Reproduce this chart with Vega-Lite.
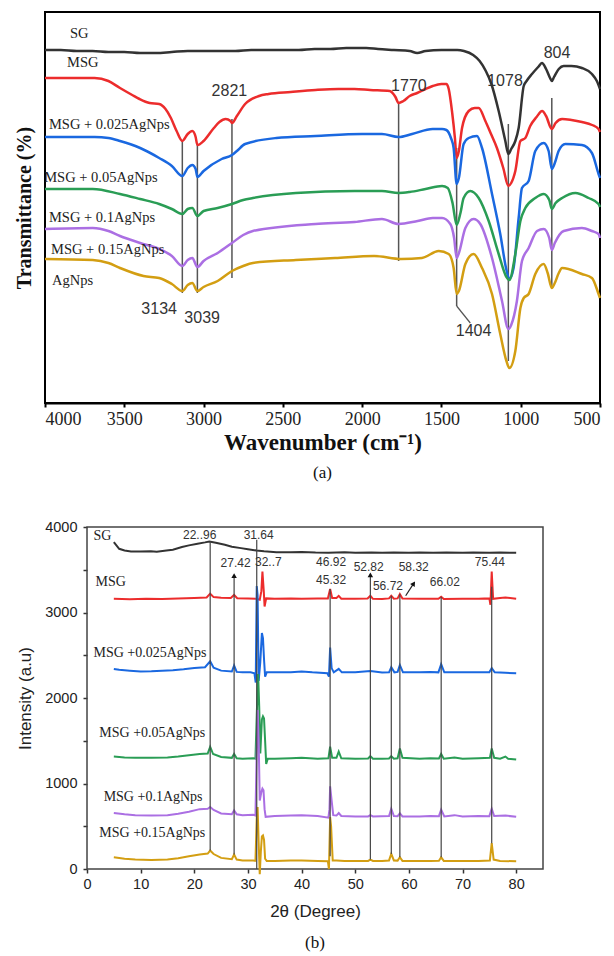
{
"$schema": "https://vega.github.io/schema/vega-lite/v6.json",
"padding": {"left": 13, "top": 11, "right": 5, "bottom": 5},
"background": "white",
"datasets": {
"ftir": [
{"s":"SG","w":4000,"t":353},{"s":"SG","w":3900,"t":353},{"s":"SG","w":3800,"t":352},{"s":"SG","w":3700,"t":352},{"s":"SG","w":3600,"t":351},{"s":"SG","w":3500,"t":351},{"s":"SG","w":3400,"t":350},{"s":"SG","w":3300,"t":350},{"s":"SG","w":3200,"t":351},{"s":"SG","w":3100,"t":352},{"s":"SG","w":3000,"t":352},{"s":"SG","w":2900,"t":352},{"s":"SG","w":2800,"t":352},{"s":"SG","w":2700,"t":353},{"s":"SG","w":2600,"t":353},{"s":"SG","w":2500,"t":353},{"s":"SG","w":2400,"t":353},{"s":"SG","w":2300,"t":354},{"s":"SG","w":2200,"t":354},{"s":"SG","w":2100,"t":355},{"s":"SG","w":1974,"t":355},{"s":"SG","w":1900,"t":354},{"s":"SG","w":1800,"t":353},{"s":"SG","w":1700,"t":352},{"s":"SG","w":1653,"t":350},{"s":"SG","w":1600,"t":352},{"s":"SG","w":1500,"t":353},{"s":"SG","w":1400,"t":353},{"s":"SG","w":1358,"t":352},{"s":"SG","w":1300,"t":348},{"s":"SG","w":1259,"t":342},{"s":"SG","w":1220,"t":332},{"s":"SG","w":1185,"t":319},{"s":"SG","w":1139,"t":292},{"s":"SG","w":1097,"t":262},{"s":"SG","w":1078,"t":249},{"s":"SG","w":1060,"t":254},{"s":"SG","w":1034,"t":262},{"s":"SG","w":1013,"t":275},{"s":"SG","w":981,"t":317},{"s":"SG","w":963,"t":322},{"s":"SG","w":929,"t":329},{"s":"SG","w":890,"t":336},{"s":"SG","w":866,"t":340},{"s":"SG","w":840,"t":334},{"s":"SG","w":815,"t":325},{"s":"SG","w":804,"t":322},{"s":"SG","w":790,"t":326},{"s":"SG","w":760,"t":334},{"s":"SG","w":729,"t":337},{"s":"SG","w":680,"t":337},{"s":"SG","w":614,"t":335},{"s":"SG","w":551,"t":329},{"s":"SG","w":520,"t":322},{"s":"SG","w":500,"t":314},
{"s":"MSG","w":4000,"t":325},{"s":"MSG","w":3800,"t":325},{"s":"MSG","w":3687,"t":325},{"s":"MSG","w":3600,"t":322},{"s":"MSG","w":3527,"t":315},{"s":"MSG","w":3450,"t":308},{"s":"MSG","w":3404,"t":304},{"s":"MSG","w":3340,"t":300},{"s":"MSG","w":3280,"t":299},{"s":"MSG","w":3240,"t":294},{"s":"MSG","w":3206,"t":285},{"s":"MSG","w":3170,"t":272},{"s":"MSG","w":3134,"t":262},{"s":"MSG","w":3100,"t":269},{"s":"MSG","w":3071,"t":272},{"s":"MSG","w":3050,"t":266},{"s":"MSG","w":3039,"t":258},{"s":"MSG","w":3000,"t":262},{"s":"MSG","w":2935,"t":275},{"s":"MSG","w":2900,"t":281},{"s":"MSG","w":2861,"t":284},{"s":"MSG","w":2830,"t":282},{"s":"MSG","w":2821,"t":280},{"s":"MSG","w":2790,"t":287},{"s":"MSG","w":2738,"t":299},{"s":"MSG","w":2650,"t":307},{"s":"MSG","w":2590,"t":309},{"s":"MSG","w":2450,"t":311},{"s":"MSG","w":2294,"t":313},{"s":"MSG","w":2150,"t":314},{"s":"MSG","w":2048,"t":314},{"s":"MSG","w":1950,"t":313},{"s":"MSG","w":1826,"t":312},{"s":"MSG","w":1790,"t":306},{"s":"MSG","w":1770,"t":300},{"s":"MSG","w":1740,"t":302},{"s":"MSG","w":1700,"t":307},{"s":"MSG","w":1653,"t":310},{"s":"MSG","w":1600,"t":314},{"s":"MSG","w":1555,"t":317},{"s":"MSG","w":1500,"t":319},{"s":"MSG","w":1469,"t":319},{"s":"MSG","w":1454,"t":314},{"s":"MSG","w":1432,"t":290},{"s":"MSG","w":1415,"t":265},{"s":"MSG","w":1404,"t":245},{"s":"MSG","w":1390,"t":252},{"s":"MSG","w":1370,"t":275},{"s":"MSG","w":1328,"t":292},{"s":"MSG","w":1290,"t":295},{"s":"MSG","w":1265,"t":295},{"s":"MSG","w":1223,"t":282},{"s":"MSG","w":1190,"t":270},{"s":"MSG","w":1150,"t":255},{"s":"MSG","w":1110,"t":235},{"s":"MSG","w":1078,"t":217},{"s":"MSG","w":1060,"t":220},{"s":"MSG","w":1034,"t":232},{"s":"MSG","w":1002,"t":262},{"s":"MSG","w":971,"t":265},{"s":"MSG","w":940,"t":277},{"s":"MSG","w":900,"t":286},{"s":"MSG","w":865,"t":292},{"s":"MSG","w":840,"t":287},{"s":"MSG","w":804,"t":274},{"s":"MSG","w":780,"t":280},{"s":"MSG","w":739,"t":284},{"s":"MSG","w":680,"t":283},{"s":"MSG","w":614,"t":281},{"s":"MSG","w":550,"t":278},{"s":"MSG","w":509,"t":274},{"s":"MSG","w":500,"t":271},
{"s":"0.025","w":4000,"t":266},{"s":"0.025","w":3687,"t":266},{"s":"0.025","w":3600,"t":265},{"s":"0.025","w":3527,"t":262},{"s":"0.025","w":3400,"t":255},{"s":"0.025","w":3280,"t":245},{"s":"0.025","w":3200,"t":237},{"s":"0.025","w":3134,"t":227},{"s":"0.025","w":3100,"t":235},{"s":"0.025","w":3071,"t":238},{"s":"0.025","w":3050,"t":234},{"s":"0.025","w":3039,"t":226},{"s":"0.025","w":3000,"t":232},{"s":"0.025","w":2886,"t":244},{"s":"0.025","w":2821,"t":248},{"s":"0.025","w":2790,"t":252},{"s":"0.025","w":2738,"t":259},{"s":"0.025","w":2541,"t":265},{"s":"0.025","w":2294,"t":267},{"s":"0.025","w":2000,"t":269},{"s":"0.025","w":1875,"t":269},{"s":"0.025","w":1770,"t":266},{"s":"0.025","w":1685,"t":269},{"s":"0.025","w":1555,"t":274},{"s":"0.025","w":1496,"t":274},{"s":"0.025","w":1469,"t":273},{"s":"0.025","w":1440,"t":265},{"s":"0.025","w":1423,"t":255},{"s":"0.025","w":1404,"t":219},{"s":"0.025","w":1390,"t":225},{"s":"0.025","w":1360,"t":259},{"s":"0.025","w":1328,"t":265},{"s":"0.025","w":1276,"t":267},{"s":"0.025","w":1244,"t":255},{"s":"0.025","w":1181,"t":209},{"s":"0.025","w":1129,"t":169},{"s":"0.025","w":1090,"t":133},{"s":"0.025","w":1072,"t":124},{"s":"0.025","w":1045,"t":135},{"s":"0.025","w":1013,"t":185},{"s":"0.025","w":992,"t":215},{"s":"0.025","w":950,"t":222},{"s":"0.025","w":908,"t":252},{"s":"0.025","w":855,"t":260},{"s":"0.025","w":824,"t":252},{"s":"0.025","w":804,"t":234},{"s":"0.025","w":785,"t":240},{"s":"0.025","w":761,"t":252},{"s":"0.025","w":719,"t":259},{"s":"0.025","w":614,"t":258},{"s":"0.025","w":551,"t":250},{"s":"0.025","w":509,"t":229},{"s":"0.025","w":500,"t":225},
{"s":"0.05","w":4000,"t":214},{"s":"0.05","w":3699,"t":214},{"s":"0.05","w":3527,"t":209},{"s":"0.05","w":3400,"t":204},{"s":"0.05","w":3280,"t":199},{"s":"0.05","w":3200,"t":194},{"s":"0.05","w":3134,"t":189},{"s":"0.05","w":3100,"t":194},{"s":"0.05","w":3071,"t":195},{"s":"0.05","w":3039,"t":187},{"s":"0.05","w":3000,"t":192},{"s":"0.05","w":2911,"t":195},{"s":"0.05","w":2821,"t":199},{"s":"0.05","w":2750,"t":203},{"s":"0.05","w":2689,"t":205},{"s":"0.05","w":2418,"t":210},{"s":"0.05","w":2048,"t":212},{"s":"0.05","w":1875,"t":212},{"s":"0.05","w":1770,"t":210},{"s":"0.05","w":1700,"t":211},{"s":"0.05","w":1600,"t":214},{"s":"0.05","w":1496,"t":217},{"s":"0.05","w":1460,"t":215},{"s":"0.05","w":1430,"t":200},{"s":"0.05","w":1404,"t":178},{"s":"0.05","w":1380,"t":190},{"s":"0.05","w":1360,"t":205},{"s":"0.05","w":1318,"t":212},{"s":"0.05","w":1265,"t":205},{"s":"0.05","w":1202,"t":182},{"s":"0.05","w":1139,"t":149},{"s":"0.05","w":1090,"t":126},{"s":"0.05","w":1072,"t":123},{"s":"0.05","w":1034,"t":149},{"s":"0.05","w":1002,"t":182},{"s":"0.05","w":971,"t":195},{"s":"0.05","w":908,"t":205},{"s":"0.05","w":855,"t":209},{"s":"0.05","w":820,"t":203},{"s":"0.05","w":804,"t":194},{"s":"0.05","w":780,"t":200},{"s":"0.05","w":739,"t":205},{"s":"0.05","w":655,"t":210},{"s":"0.05","w":572,"t":205},{"s":"0.05","w":509,"t":199},{"s":"0.05","w":500,"t":196},
{"s":"0.1","w":4000,"t":174},{"s":"0.1","w":3699,"t":175},{"s":"0.1","w":3600,"t":172},{"s":"0.1","w":3527,"t":167},{"s":"0.1","w":3400,"t":160},{"s":"0.1","w":3280,"t":154},{"s":"0.1","w":3200,"t":147},{"s":"0.1","w":3134,"t":137},{"s":"0.1","w":3100,"t":143},{"s":"0.1","w":3071,"t":145},{"s":"0.1","w":3039,"t":136},{"s":"0.1","w":3000,"t":142},{"s":"0.1","w":2911,"t":150},{"s":"0.1","w":2821,"t":160},{"s":"0.1","w":2750,"t":168},{"s":"0.1","w":2689,"t":172},{"s":"0.1","w":2294,"t":179},{"s":"0.1","w":2048,"t":181},{"s":"0.1","w":1875,"t":184},{"s":"0.1","w":1770,"t":179},{"s":"0.1","w":1650,"t":182},{"s":"0.1","w":1555,"t":185},{"s":"0.1","w":1496,"t":185},{"s":"0.1","w":1444,"t":179},{"s":"0.1","w":1420,"t":165},{"s":"0.1","w":1404,"t":145},{"s":"0.1","w":1390,"t":150},{"s":"0.1","w":1349,"t":175},{"s":"0.1","w":1297,"t":184},{"s":"0.1","w":1255,"t":179},{"s":"0.1","w":1181,"t":145},{"s":"0.1","w":1118,"t":102},{"s":"0.1","w":1078,"t":74},{"s":"0.1","w":1060,"t":78},{"s":"0.1","w":1024,"t":102},{"s":"0.1","w":992,"t":142},{"s":"0.1","w":950,"t":155},{"s":"0.1","w":897,"t":172},{"s":"0.1","w":855,"t":174},{"s":"0.1","w":820,"t":165},{"s":"0.1","w":804,"t":153},{"s":"0.1","w":785,"t":160},{"s":"0.1","w":729,"t":172},{"s":"0.1","w":614,"t":175},{"s":"0.1","w":551,"t":172},{"s":"0.1","w":509,"t":169},{"s":"0.1","w":500,"t":165},
{"s":"0.15","w":4000,"t":144},{"s":"0.15","w":3699,"t":143},{"s":"0.15","w":3600,"t":140},{"s":"0.15","w":3527,"t":135},{"s":"0.15","w":3379,"t":127},{"s":"0.15","w":3280,"t":125},{"s":"0.15","w":3200,"t":119},{"s":"0.15","w":3134,"t":112},{"s":"0.15","w":3100,"t":118},{"s":"0.15","w":3071,"t":120},{"s":"0.15","w":3039,"t":112},{"s":"0.15","w":3000,"t":116},{"s":"0.15","w":2911,"t":122},{"s":"0.15","w":2821,"t":132},{"s":"0.15","w":2750,"t":137},{"s":"0.15","w":2689,"t":140},{"s":"0.15","w":2418,"t":143},{"s":"0.15","w":2171,"t":145},{"s":"0.15","w":1925,"t":147},{"s":"0.15","w":1753,"t":144},{"s":"0.15","w":1623,"t":145},{"s":"0.15","w":1517,"t":152},{"s":"0.15","w":1454,"t":149},{"s":"0.15","w":1423,"t":135},{"s":"0.15","w":1404,"t":109},{"s":"0.15","w":1390,"t":112},{"s":"0.15","w":1349,"t":139},{"s":"0.15","w":1297,"t":149},{"s":"0.15","w":1244,"t":135},{"s":"0.15","w":1181,"t":109},{"s":"0.15","w":1129,"t":69},{"s":"0.15","w":1090,"t":42},{"s":"0.15","w":1072,"t":35},{"s":"0.15","w":1034,"t":52},{"s":"0.15","w":1002,"t":95},{"s":"0.15","w":981,"t":105},{"s":"0.15","w":950,"t":109},{"s":"0.15","w":908,"t":129},{"s":"0.15","w":855,"t":139},{"s":"0.15","w":830,"t":130},{"s":"0.15","w":804,"t":115},{"s":"0.15","w":785,"t":120},{"s":"0.15","w":760,"t":130},{"s":"0.15","w":739,"t":135},{"s":"0.15","w":614,"t":129},{"s":"0.15","w":551,"t":125},{"s":"0.15","w":509,"t":109},{"s":"0.15","w":500,"t":105}
],
"ftirLines": [
{"w":3134,"t1":262,"t2":110},{"w":3039,"t1":258,"t2":110},{"w":2821,"t1":284,"t2":125},{"w":1770,"t1":300,"t2":142},{"w":1404,"t1":255,"t2":97},{"w":1078,"t1":279,"t2":42},{"w":804,"t1":305,"t2":115}
],
"ftirConn": [{"w1":1404,"t1":97,"w2":1318,"t2":80}],
"ftirNums": [
{"label":"3134","w":3280,"t":94},{"label":"3039","w":3009,"t":85},{"label":"2821","w":2837,"t":312},{"label":"1770","w":1705,"t":317},{"label":"1404","w":1297,"t":72},{"label":"1078","w":1099,"t":322},{"label":"804","w":771,"t":350}
],
"ftirNames": [
{"label":"SG","w":3842,"t":369},{"label":"MSG","w":3861,"t":340},{"label":"MSG + 0.025AgNps","w":3975,"t":278},{"label":"MSG + 0.05AgNps","w":4005,"t":225},{"label":"MSG + 0.1AgNps","w":3975,"t":185},{"label":"MSG + 0.15AgNps","w":3962,"t":153},{"label":"AgNps","w":3956,"t":122}
],
"xrdFrame": [{"a1":0,"a2":85,"i1":0,"i2":4000}],
"xrd": [
{"s":"SG","a":5,"i":3824},{"s":"SG","a":6,"i":3745},{"s":"SG","a":7,"i":3725},{"s":"SG","a":8.2,"i":3714},{"s":"SG","a":10,"i":3712},{"s":"SG","a":11.9,"i":3716},{"s":"SG","a":13,"i":3712},{"s":"SG","a":14.8,"i":3725},{"s":"SG","a":16,"i":3735},{"s":"SG","a":17.7,"i":3765},{"s":"SG","a":19,"i":3785},{"s":"SG","a":20.6,"i":3804},{"s":"SG","a":22,"i":3820},{"s":"SG","a":22.8,"i":3831},{"s":"SG","a":24,"i":3815},{"s":"SG","a":25.7,"i":3792},{"s":"SG","a":27,"i":3770},{"s":"SG","a":28.7,"i":3753},{"s":"SG","a":30,"i":3740},{"s":"SG","a":31.6,"i":3725},{"s":"SG","a":33,"i":3715},{"s":"SG","a":35.3,"i":3706},{"s":"SG","a":38,"i":3704},{"s":"SG","a":40,"i":3708},{"s":"SG","a":42.6,"i":3702},{"s":"SG","a":45,"i":3700},{"s":"SG","a":48,"i":3704},{"s":"SG","a":50,"i":3700},{"s":"SG","a":53,"i":3703},{"s":"SG","a":55,"i":3700},{"s":"SG","a":57.2,"i":3702},{"s":"SG","a":60,"i":3700},{"s":"SG","a":62,"i":3703},{"s":"SG","a":64.5,"i":3700},{"s":"SG","a":67,"i":3702},{"s":"SG","a":70,"i":3700},{"s":"SG","a":72,"i":3702},{"s":"SG","a":75,"i":3700},{"s":"SG","a":77,"i":3702},{"s":"SG","a":80,"i":3698},
{"s":"MSG","a":5,"i":3160},{"s":"MSG","a":8,"i":3155},{"s":"MSG","a":11,"i":3162},{"s":"MSG","a":14,"i":3158},{"s":"MSG","a":17,"i":3165},{"s":"MSG","a":20,"i":3170},{"s":"MSG","a":22.3,"i":3175},{"s":"MSG","a":22.96,"i":3220},{"s":"MSG","a":23.6,"i":3180},{"s":"MSG","a":25,"i":3172},{"s":"MSG","a":26.8,"i":3170},{"s":"MSG","a":27.42,"i":3205},{"s":"MSG","a":28,"i":3168},{"s":"MSG","a":30,"i":3165},{"s":"MSG","a":31.5,"i":3160},{"s":"MSG","a":32.2,"i":3150},{"s":"MSG","a":32.5,"i":3250},{"s":"MSG","a":32.7,"i":3480},{"s":"MSG","a":32.95,"i":3250},{"s":"MSG","a":33.1,"i":3070},{"s":"MSG","a":33.4,"i":3165},{"s":"MSG","a":35,"i":3160},{"s":"MSG","a":38,"i":3165},{"s":"MSG","a":40,"i":3160},{"s":"MSG","a":43,"i":3163},{"s":"MSG","a":44.9,"i":3165},{"s":"MSG","a":45.32,"i":3275},{"s":"MSG","a":45.7,"i":3170},{"s":"MSG","a":46.5,"i":3170},{"s":"MSG","a":46.92,"i":3195},{"s":"MSG","a":47.4,"i":3162},{"s":"MSG","a":50,"i":3160},{"s":"MSG","a":52.3,"i":3163},{"s":"MSG","a":52.82,"i":3195},{"s":"MSG","a":53.3,"i":3160},{"s":"MSG","a":55,"i":3158},{"s":"MSG","a":56.3,"i":3165},{"s":"MSG","a":56.72,"i":3195},{"s":"MSG","a":57.2,"i":3162},{"s":"MSG","a":57.9,"i":3165},{"s":"MSG","a":58.32,"i":3215},{"s":"MSG","a":58.8,"i":3165},{"s":"MSG","a":62,"i":3160},{"s":"MSG","a":65.5,"i":3160},{"s":"MSG","a":66.02,"i":3185},{"s":"MSG","a":66.5,"i":3158},{"s":"MSG","a":70,"i":3162},{"s":"MSG","a":73,"i":3160},{"s":"MSG","a":75,"i":3165},{"s":"MSG","a":75.2,"i":3090},{"s":"MSG","a":75.44,"i":3480},{"s":"MSG","a":75.7,"i":3160},{"s":"MSG","a":77,"i":3170},{"s":"MSG","a":78,"i":3175},{"s":"MSG","a":80,"i":3160},
{"s":"0.025","a":5,"i":2340},{"s":"0.025","a":6,"i":2330},{"s":"0.025","a":8,"i":2320},{"s":"0.025","a":10,"i":2310},{"s":"0.025","a":12,"i":2312},{"s":"0.025","a":14,"i":2318},{"s":"0.025","a":16,"i":2325},{"s":"0.025","a":18,"i":2335},{"s":"0.025","a":20,"i":2350},{"s":"0.025","a":22,"i":2360},{"s":"0.025","a":22.96,"i":2430},{"s":"0.025","a":23.6,"i":2355},{"s":"0.025","a":25,"i":2320},{"s":"0.025","a":27,"i":2310},{"s":"0.025","a":27.42,"i":2380},{"s":"0.025","a":27.9,"i":2305},{"s":"0.025","a":29,"i":2300},{"s":"0.025","a":30.5,"i":2300},{"s":"0.025","a":31.2,"i":2290},{"s":"0.025","a":31.45,"i":2180},{"s":"0.025","a":31.64,"i":3310},{"s":"0.025","a":31.8,"i":3200},{"s":"0.025","a":32,"i":2200},{"s":"0.025","a":32.3,"i":2420},{"s":"0.025","a":32.6,"i":2760},{"s":"0.025","a":32.8,"i":2700},{"s":"0.025","a":33,"i":2450},{"s":"0.025","a":33.2,"i":2250},{"s":"0.025","a":33.5,"i":2300},{"s":"0.025","a":35,"i":2300},{"s":"0.025","a":38,"i":2300},{"s":"0.025","a":40,"i":2310},{"s":"0.025","a":42,"i":2300},{"s":"0.025","a":44.8,"i":2290},{"s":"0.025","a":45.1,"i":2250},{"s":"0.025","a":45.32,"i":2590},{"s":"0.025","a":45.6,"i":2350},{"s":"0.025","a":46,"i":2300},{"s":"0.025","a":46.92,"i":2340},{"s":"0.025","a":47.5,"i":2300},{"s":"0.025","a":50,"i":2300},{"s":"0.025","a":52.82,"i":2315},{"s":"0.025","a":55,"i":2298},{"s":"0.025","a":56.3,"i":2300},{"s":"0.025","a":56.72,"i":2360},{"s":"0.025","a":57.3,"i":2300},{"s":"0.025","a":57.9,"i":2305},{"s":"0.025","a":58.32,"i":2385},{"s":"0.025","a":58.9,"i":2300},{"s":"0.025","a":62,"i":2300},{"s":"0.025","a":64,"i":2305},{"s":"0.025","a":65.5,"i":2300},{"s":"0.025","a":66.02,"i":2395},{"s":"0.025","a":66.6,"i":2300},{"s":"0.025","a":70,"i":2300},{"s":"0.025","a":72,"i":2300},{"s":"0.025","a":75,"i":2300},{"s":"0.025","a":75.44,"i":2350},{"s":"0.025","a":76,"i":2300},{"s":"0.025","a":78,"i":2295},{"s":"0.025","a":80,"i":2290},
{"s":"0.05","a":5,"i":1315},{"s":"0.05","a":7,"i":1305},{"s":"0.05","a":9,"i":1300},{"s":"0.05","a":12,"i":1300},{"s":"0.05","a":15,"i":1305},{"s":"0.05","a":17,"i":1315},{"s":"0.05","a":19,"i":1330},{"s":"0.05","a":21,"i":1345},{"s":"0.05","a":22.5,"i":1350},{"s":"0.05","a":22.96,"i":1430},{"s":"0.05","a":23.5,"i":1345},{"s":"0.05","a":25,"i":1310},{"s":"0.05","a":27,"i":1300},{"s":"0.05","a":27.42,"i":1345},{"s":"0.05","a":27.9,"i":1295},{"s":"0.05","a":29,"i":1290},{"s":"0.05","a":31,"i":1295},{"s":"0.05","a":31.4,"i":1290},{"s":"0.05","a":31.64,"i":1800},{"s":"0.05","a":31.9,"i":2280},{"s":"0.05","a":32.1,"i":1900},{"s":"0.05","a":32.3,"i":1350},{"s":"0.05","a":32.6,"i":1750},{"s":"0.05","a":32.8,"i":1785},{"s":"0.05","a":33,"i":1760},{"s":"0.05","a":33.2,"i":1500},{"s":"0.05","a":33.4,"i":1230},{"s":"0.05","a":33.7,"i":1290},{"s":"0.05","a":35,"i":1290},{"s":"0.05","a":38,"i":1295},{"s":"0.05","a":40,"i":1300},{"s":"0.05","a":43,"i":1290},{"s":"0.05","a":45,"i":1295},{"s":"0.05","a":45.32,"i":1430},{"s":"0.05","a":45.7,"i":1300},{"s":"0.05","a":46.5,"i":1300},{"s":"0.05","a":46.92,"i":1372},{"s":"0.05","a":47.4,"i":1295},{"s":"0.05","a":50,"i":1290},{"s":"0.05","a":52.4,"i":1292},{"s":"0.05","a":52.82,"i":1320},{"s":"0.05","a":53.3,"i":1290},{"s":"0.05","a":55,"i":1290},{"s":"0.05","a":56.3,"i":1292},{"s":"0.05","a":56.72,"i":1320},{"s":"0.05","a":57.2,"i":1290},{"s":"0.05","a":57.9,"i":1295},{"s":"0.05","a":58.32,"i":1410},{"s":"0.05","a":58.8,"i":1300},{"s":"0.05","a":62,"i":1290},{"s":"0.05","a":64,"i":1295},{"s":"0.05","a":65.6,"i":1292},{"s":"0.05","a":66.02,"i":1345},{"s":"0.05","a":66.5,"i":1290},{"s":"0.05","a":68.5,"i":1305},{"s":"0.05","a":70,"i":1290},{"s":"0.05","a":73,"i":1295},{"s":"0.05","a":75.1,"i":1300},{"s":"0.05","a":75.44,"i":1410},{"s":"0.05","a":75.9,"i":1300},{"s":"0.05","a":77,"i":1290},{"s":"0.05","a":78,"i":1315},{"s":"0.05","a":78.5,"i":1290},{"s":"0.05","a":80,"i":1280},
{"s":"0.1","a":5,"i":655},{"s":"0.1","a":7,"i":640},{"s":"0.1","a":9,"i":630},{"s":"0.1","a":12,"i":625},{"s":"0.1","a":15,"i":630},{"s":"0.1","a":17,"i":645},{"s":"0.1","a":19,"i":670},{"s":"0.1","a":21,"i":700},{"s":"0.1","a":22.5,"i":705},{"s":"0.1","a":22.96,"i":725},{"s":"0.1","a":23.6,"i":690},{"s":"0.1","a":25,"i":650},{"s":"0.1","a":27,"i":640},{"s":"0.1","a":27.42,"i":686},{"s":"0.1","a":27.9,"i":640},{"s":"0.1","a":29,"i":630},{"s":"0.1","a":31,"i":635},{"s":"0.1","a":31.4,"i":625},{"s":"0.1","a":31.64,"i":1400},{"s":"0.1","a":31.8,"i":1860},{"s":"0.1","a":32,"i":1500},{"s":"0.1","a":32.2,"i":800},{"s":"0.1","a":32.5,"i":900},{"s":"0.1","a":32.7,"i":940},{"s":"0.1","a":32.9,"i":920},{"s":"0.1","a":33.1,"i":700},{"s":"0.1","a":33.3,"i":610},{"s":"0.1","a":35,"i":620},{"s":"0.1","a":38,"i":625},{"s":"0.1","a":40,"i":630},{"s":"0.1","a":43,"i":620},{"s":"0.1","a":45,"i":600},{"s":"0.1","a":45.2,"i":700},{"s":"0.1","a":45.32,"i":968},{"s":"0.1","a":45.6,"i":800},{"s":"0.1","a":45.9,"i":630},{"s":"0.1","a":46.5,"i":625},{"s":"0.1","a":46.92,"i":655},{"s":"0.1","a":47.4,"i":620},{"s":"0.1","a":50,"i":615},{"s":"0.1","a":52.4,"i":615},{"s":"0.1","a":52.82,"i":630},{"s":"0.1","a":53.3,"i":615},{"s":"0.1","a":56.3,"i":620},{"s":"0.1","a":56.72,"i":705},{"s":"0.1","a":57.2,"i":620},{"s":"0.1","a":57.9,"i":618},{"s":"0.1","a":58.32,"i":650},{"s":"0.1","a":58.8,"i":615},{"s":"0.1","a":62,"i":615},{"s":"0.1","a":64,"i":620},{"s":"0.1","a":65.6,"i":618},{"s":"0.1","a":66.02,"i":694},{"s":"0.1","a":66.6,"i":615},{"s":"0.1","a":68.5,"i":630},{"s":"0.1","a":70,"i":615},{"s":"0.1","a":73,"i":620},{"s":"0.1","a":75,"i":618},{"s":"0.1","a":75.44,"i":705},{"s":"0.1","a":75.9,"i":620},{"s":"0.1","a":78,"i":625},{"s":"0.1","a":80,"i":610},
{"s":"0.15","a":5,"i":137},{"s":"0.15","a":7,"i":120},{"s":"0.15","a":9,"i":110},{"s":"0.15","a":12,"i":105},{"s":"0.15","a":15,"i":110},{"s":"0.15","a":17,"i":125},{"s":"0.15","a":19,"i":150},{"s":"0.15","a":21,"i":170},{"s":"0.15","a":22.5,"i":180},{"s":"0.15","a":22.96,"i":216},{"s":"0.15","a":23.6,"i":175},{"s":"0.15","a":25,"i":130},{"s":"0.15","a":27,"i":115},{"s":"0.15","a":27.42,"i":169},{"s":"0.15","a":27.9,"i":110},{"s":"0.15","a":29,"i":100},{"s":"0.15","a":31,"i":100},{"s":"0.15","a":31.4,"i":95},{"s":"0.15","a":31.64,"i":600},{"s":"0.15","a":31.8,"i":725},{"s":"0.15","a":32,"i":300},{"s":"0.15","a":32.2,"i":-60},{"s":"0.15","a":32.4,"i":200},{"s":"0.15","a":32.6,"i":380},{"s":"0.15","a":32.8,"i":392},{"s":"0.15","a":33,"i":340},{"s":"0.15","a":33.2,"i":120},{"s":"0.15","a":33.5,"i":95},{"s":"0.15","a":35,"i":95},{"s":"0.15","a":38,"i":100},{"s":"0.15","a":40,"i":100},{"s":"0.15","a":43,"i":95},{"s":"0.15","a":44.9,"i":90},{"s":"0.15","a":45.1,"i":0},{"s":"0.15","a":45.32,"i":608},{"s":"0.15","a":45.5,"i":500},{"s":"0.15","a":45.8,"i":100},{"s":"0.15","a":46.5,"i":100},{"s":"0.15","a":48,"i":95},{"s":"0.15","a":50,"i":95},{"s":"0.15","a":52.4,"i":95},{"s":"0.15","a":52.82,"i":110},{"s":"0.15","a":53.3,"i":95},{"s":"0.15","a":55,"i":95},{"s":"0.15","a":56.3,"i":100},{"s":"0.15","a":56.72,"i":176},{"s":"0.15","a":57.2,"i":100},{"s":"0.15","a":57.9,"i":98},{"s":"0.15","a":58.32,"i":137},{"s":"0.15","a":58.8,"i":95},{"s":"0.15","a":62,"i":95},{"s":"0.15","a":64,"i":95},{"s":"0.15","a":65.6,"i":96},{"s":"0.15","a":66.02,"i":137},{"s":"0.15","a":66.5,"i":95},{"s":"0.15","a":70,"i":95},{"s":"0.15","a":73,"i":95},{"s":"0.15","a":75.1,"i":100},{"s":"0.15","a":75.44,"i":302},{"s":"0.15","a":75.8,"i":110},{"s":"0.15","a":77,"i":95},{"s":"0.15","a":80,"i":90}
],
"xrdLines": [
{"a":22.96,"i1":3831,"i2":216},{"a":27.42,"i1":3440,"i2":169},{"a":31.64,"i1":3850,"i2":0},{"a":45.32,"i1":3275,"i2":150},{"a":52.82,"i1":3450,"i2":110},{"a":56.72,"i1":3195,"i2":176},{"a":58.32,"i1":3215,"i2":137},{"a":66.02,"i1":3185,"i2":137},{"a":75.44,"i1":3300,"i2":302}
],
"xrdHeads": [{"a":27.42,"i":3430,"ang":0},{"a":52.82,"i":3440,"ang":0},{"a":60.9,"i":3340,"ang":33}],
"xrdDiag": [{"a1":59.4,"i1":3196,"a2":60.9,"i2":3340}],
"xrdNums": [
{"label":"22..96","a":21.0,"i":3902},{"label":"31.64","a":32.0,"i":3910},{"label":"27.42","a":27.7,"i":3576},{"label":"32..7","a":33.8,"i":3588},{"label":"46.92","a":45.5,"i":3588},{"label":"45.32","a":45.5,"i":3384},{"label":"52.82","a":52.5,"i":3529},{"label":"58.32","a":60.9,"i":3529},{"label":"56.72","a":56.1,"i":3306},{"label":"66.02","a":66.7,"i":3353},{"label":"75.44","a":75.1,"i":3588}
],
"xrdNames": [
{"label":"SG","a":1.2,"i":3894},{"label":"MSG","a":1.6,"i":3361},{"label":"MSG +0.025AgNps","a":1.2,"i":2522},{"label":"MSG +0.05AgNps","a":2.3,"i":1588},{"label":"MSG +0.1AgNps","a":3.1,"i":843},{"label":"MSG +0.15AgNps","a":2.3,"i":419}
]
},
"concat": [
{
"width": 555, "height": 391,
"view": {"stroke": "#000", "strokeWidth": 2},
"title": {"text": "(a)", "orient": "bottom", "font": "Liberation Serif", "fontSize": 17, "fontWeight": "normal", "color": "#111", "offset": 11, "frame": "group", "anchor": "middle"},
"layer": [
{"data": {"name": "ftirLines"}, "mark": {"type": "rule", "color": "#555", "strokeWidth": 1.5},
 "encoding": {"x": {"field": "w", "type": "quantitative", "scale": {"domain": [500, 4000], "reverse": true, "nice": false, "zero": false},
   "axis": {"values": [500,750,1000,1250,1500,1750,2000,2250,2500,2750,3000,3250,3500,3750,4000], "labelExpr": "datum.value % 500 === 0 ? datum.label : ''", "format": "d", "grid": false, "labelFont": "Liberation Serif", "labelFontSize": 18, "labelColor": "#222", "labelPadding": 3, "tickColor": "#000", "tickWidth": 2, "tickSize": 4, "domainColor": "#000", "domainWidth": 2, "title": "Wavenumber (cm⁻¹)", "titleFont": "Liberation Serif", "titleFontSize": 23, "titleFontWeight": "bold", "titleColor": "#111", "titlePadding": 3}},
  "y": {"field": "t1", "type": "quantitative", "scale": {"domain": [0, 391], "nice": false, "zero": false},
   "axis": {"title": "Transmittance (%)", "labels": false, "ticks": false, "domain": false, "grid": false, "titleFont": "Liberation Serif", "titleFontSize": 20, "titleFontWeight": "bold", "titleColor": "#111", "titlePadding": 11}},
  "y2": {"field": "t2"}}},
{"data": {"name": "ftirConn"}, "mark": {"type": "rule", "color": "#555", "strokeWidth": 1.2},
 "encoding": {"x": {"field": "w1", "type": "quantitative"}, "x2": {"field": "w2"}, "y": {"field": "t1", "type": "quantitative"}, "y2": {"field": "t2"}}},
{"data": {"name": "ftir"}, "mark": {"type": "line", "strokeWidth": 2.5, "interpolate": "monotone"},
 "encoding": {"x": {"field": "w", "type": "quantitative"}, "y": {"field": "t", "type": "quantitative"},
  "color": {"field": "s", "type": "nominal", "scale": {"domain": ["SG", "MSG", "0.025", "0.05", "0.1", "0.15"], "range": ["#333333", "#ec2c2c", "#1a68e0", "#2a9d55", "#ab6fe3", "#d39e12"]}, "legend": null}}},
{"data": {"name": "ftirNums"}, "mark": {"type": "text", "font": "Liberation Sans", "fontSize": 16, "color": "#333"},
 "encoding": {"x": {"field": "w", "type": "quantitative"}, "y": {"field": "t", "type": "quantitative"}, "text": {"field": "label"}}},
{"data": {"name": "ftirNames"}, "mark": {"type": "text", "font": "Liberation Serif", "fontSize": 14.5, "color": "#222", "align": "left"},
 "encoding": {"x": {"field": "w", "type": "quantitative"}, "y": {"field": "t", "type": "quantitative"}, "text": {"field": "label"}}}
]
},
{
"width": 498, "height": 342,
"view": {"stroke": null},
"title": {"text": "(b)", "orient": "bottom", "font": "Liberation Serif", "fontSize": 17, "fontWeight": "normal", "color": "#111", "offset": 15, "frame": "group", "anchor": "middle", "dx": 21},
"layer": [
{"data": {"name": "xrdFrame"}, "mark": {"type": "rect", "fillOpacity": 0, "stroke": "#444", "strokeWidth": 1.5},
 "encoding": {"x": {"field": "a1", "type": "quantitative", "scale": {"domain": [-7.83, 85], "nice": false, "zero": false},
   "axis": {"values": [0,5,10,15,20,25,30,35,40,45,50,55,60,65,70,75,80], "labelExpr": "datum.value % 10 === 0 ? datum.label : ''", "grid": false, "domain": false, "labelFont": "Liberation Sans", "labelFontSize": 14.5, "labelColor": "#222", "labelPadding": 4, "tickColor": "#333", "tickWidth": 1.5, "tickSize": 4, "title": "2θ (Degree)", "titleX": 270, "titleFont": "Liberation Sans", "titleFontSize": 17, "titleFontWeight": "normal", "titleColor": "#222", "titlePadding": 13}},
  "x2": {"field": "a2"},
  "y": {"field": "i1", "type": "quantitative", "scale": {"domain": [0, 4000], "nice": false},
   "axis": {"values": [0,500,1000,1500,2000,2500,3000,3500,4000], "labelExpr": "datum.value % 1000 === 0 ? datum.label : ''", "format": "d", "grid": false, "domain": false, "offset": -42, "labelFont": "Liberation Sans", "labelFontSize": 14.5, "labelColor": "#222", "labelPadding": 6, "tickColor": "#333", "tickWidth": 1.5, "tickSize": 4, "title": "Intensity (a.u)", "titleFont": "Liberation Sans", "titleFontSize": 17, "titleFontWeight": "normal", "titleColor": "#222", "titlePadding": 10}},
  "y2": {"field": "i2"}}},
{"data": {"name": "xrd"}, "mark": {"type": "line", "strokeWidth": 2},
 "encoding": {"x": {"field": "a", "type": "quantitative"}, "y": {"field": "i", "type": "quantitative"},
  "color": {"field": "s", "type": "nominal", "scale": {"domain": ["SG", "MSG", "0.025", "0.05", "0.1", "0.15"], "range": ["#333333", "#ec2c2c", "#1a68e0", "#2a9d55", "#ab6fe3", "#d39e12"]}, "legend": null}}},
{"data": {"name": "xrdLines"}, "mark": {"type": "rule", "color": "#444", "strokeWidth": 1.2},
 "encoding": {"x": {"field": "a", "type": "quantitative"}, "y": {"field": "i1", "type": "quantitative"}, "y2": {"field": "i2"}}},
{"data": {"name": "xrdDiag"}, "mark": {"type": "rule", "color": "#222", "strokeWidth": 1.2},
 "encoding": {"x": {"field": "a1", "type": "quantitative"}, "x2": {"field": "a2"}, "y": {"field": "i1", "type": "quantitative"}, "y2": {"field": "i2"}}},
{"data": {"name": "xrdHeads"}, "mark": {"type": "point", "shape": "triangle-up", "filled": true, "color": "#111", "size": 30, "opacity": 1},
 "encoding": {"x": {"field": "a", "type": "quantitative"}, "y": {"field": "i", "type": "quantitative"}, "angle": {"field": "ang", "type": "quantitative", "scale": null}}},
{"data": {"name": "xrdNums"}, "mark": {"type": "text", "font": "Liberation Sans", "fontSize": 12, "color": "#333"},
 "encoding": {"x": {"field": "a", "type": "quantitative"}, "y": {"field": "i", "type": "quantitative"}, "text": {"field": "label"}}},
{"data": {"name": "xrdNames"}, "mark": {"type": "text", "font": "Liberation Serif", "fontSize": 14, "color": "#222", "align": "left"},
 "encoding": {"x": {"field": "a", "type": "quantitative"}, "y": {"field": "i", "type": "quantitative"}, "text": {"field": "label"}}}
]
}
],
"columns": 1,
"spacing": 37,
"resolve": {"scale": {"color": "shared"}}
}
